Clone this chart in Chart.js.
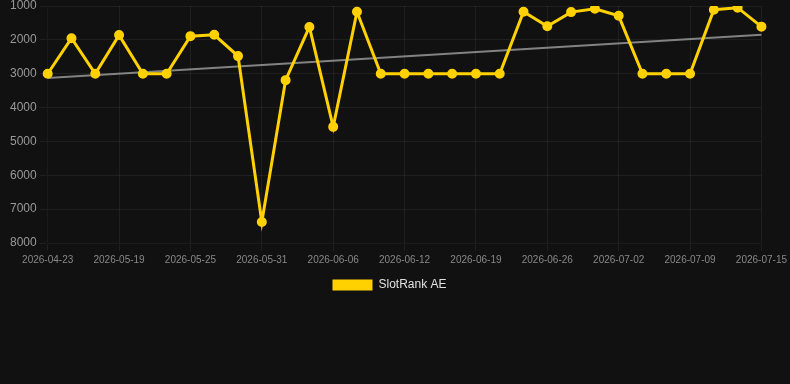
<!DOCTYPE html>
<html>
<head>
<meta charset="utf-8">
<script src="https://cdn.jsdelivr.net/npm/chart.js@4.4.1/dist/chart.umd.min.js"></script>
<style>
  html, body { margin: 0; padding: 0; background: #111111; }
  #wrap { width: 790px; height: 308px; margin-top: -3px; }
</style>
</head>
<body>
<div id="wrap"><canvas id="rankChart"></canvas></div>
<script>
// dates (only every third one is shown on the axis)
const dateLabels = [
    '2026-04-23', '2026-05-11', '2026-05-16', '2026-05-19', '2026-05-21', '2026-05-23',
    '2026-05-25', '2026-05-27', '2026-05-29', '2026-05-31', '2026-06-02', '2026-06-04',
    '2026-06-06', '2026-06-08', '2026-06-10', '2026-06-12', '2026-06-14', '2026-06-16',
    '2026-06-19', '2026-06-21', '2026-06-24', '2026-06-26', '2026-06-28', '2026-06-30',
    '2026-07-02', '2026-07-04', '2026-07-07', '2026-07-09', '2026-07-11', '2026-07-13',
    '2026-07-15'
];

// rank values
const rankValues = [
    3000, 1950, 3000, 1860, 3000, 3000, 1890, 1850, 2480, 7380, 3190, 1620,
    4570, 1170, 3000, 3000, 3000, 3000, 3000, 3000, 1170, 1600, 1180, 1080,
    1290, 3000, 3000, 3000, 1110, 1050, 1610
];

// trend line: only the two end points, joined straight
const trendValues = dateLabels.map(() => null);
trendValues[0] = 3130;
trendValues[dateLabels.length - 1] = 1850;

const gridColor = 'rgba(255,255,255,0.06)';

new Chart(document.getElementById('rankChart').getContext('2d'), {
    type: 'line',
    data: {
        labels: dateLabels,
        datasets: [
            {
                label: 'SlotRank AE',
                data: rankValues,
                borderColor: '#ffd100',
                backgroundColor: '#ffd100',
                borderWidth: 3,
                pointRadius: 4,
                pointBorderWidth: 2,
                pointHoverRadius: 4,
                tension: 0,
                fill: false,
            },
            {
                label: 'trend',
                data: trendValues,
                borderColor: 'rgba(150,150,150,0.85)',
                borderWidth: 2,
                pointRadius: 0,
                spanGaps: true,
                fill: false,
            },
        ],
    },
    options: {
        responsive: true,
        maintainAspectRatio: false,
        animation: false,
        layout: { padding: { left: 7, right: 18, top: 0, bottom: 4 } },
        plugins: {
            legend: {
                position: 'bottom',
                labels: {
                    color: '#e0e0e0',
                    font: { size: 12 },
                    boxWidth: 40,
                    boxHeight: 11,
                    generateLabels: chart =>
                        Chart.defaults.plugins.legend.labels.generateLabels(chart)
                            .filter(item => item.text !== 'trend')
                            .map(item => Object.assign(item, { lineWidth: 0 })),
                },
            },
            tooltip: { enabled: false },
        },
        scales: {
            x: {
                grid: {
                    color: ctx => (ctx.index % 3 === 0 ? gridColor : 'transparent'),
                },
                ticks: {
                    color: '#888',
                    font: { size: 10 },
                    maxRotation: 0,
                    autoSkip: false,
                    callback: function (value, index) {
                        return index % 3 === 0 ? this.getLabelForValue(value) : '';
                    },
                },
            },
            y: {
                reverse: true,
                min: 1000,
                max: 8000,
                grid: { color: gridColor },
                ticks: {
                    color: '#999',
                    font: { size: 12, lineHeight: 1 },
                    stepSize: 1000,
                    callback: value => String(value),
                },
            },
        },
    },
});
</script>
</body>
</html>
